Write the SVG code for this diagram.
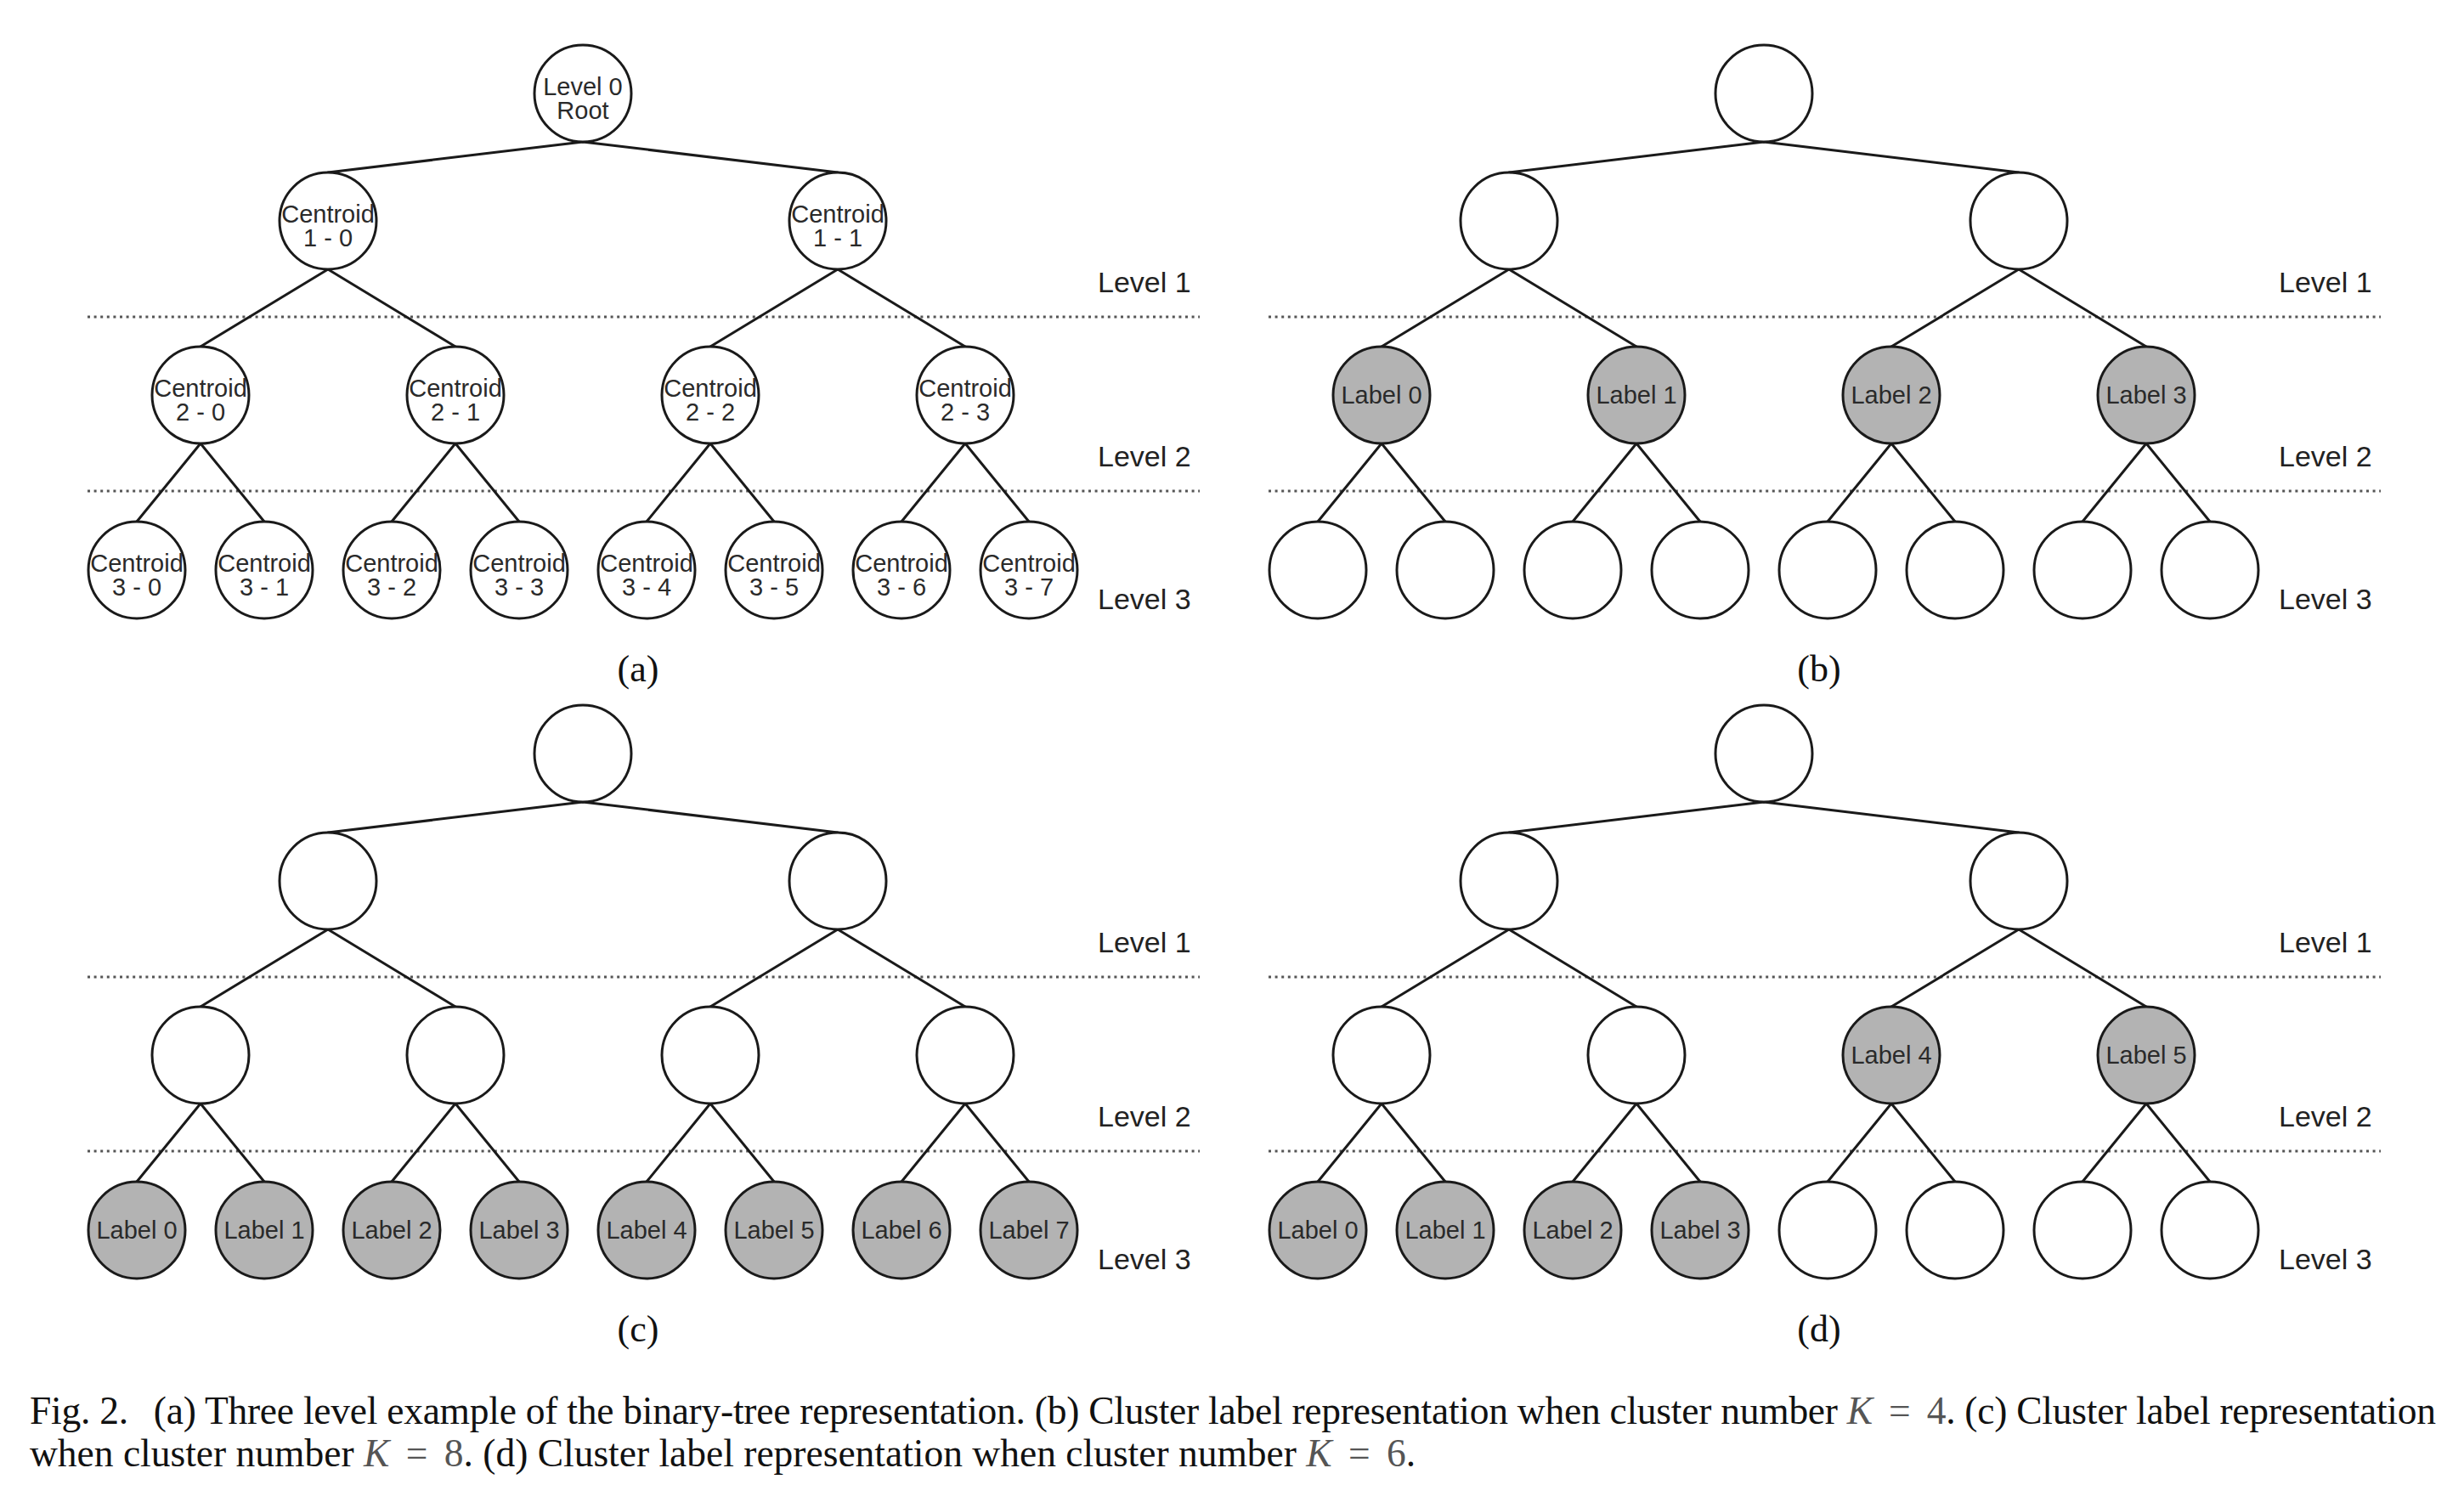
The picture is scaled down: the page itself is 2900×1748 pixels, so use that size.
<svg xmlns="http://www.w3.org/2000/svg" width="2900" height="1748" viewBox="0 0 2900 1748">
<style>
.bg{fill:#fff}
.e{stroke:#1a1a1a;stroke-width:3;fill:none;stroke-linecap:round}
.n{fill:#fff;stroke:#1a1a1a;stroke-width:3}
.g{fill:#b3b3b3;stroke:#1a1a1a;stroke-width:3}
.t{font-family:"Liberation Sans",Arial,sans-serif;font-size:29px;fill:#2a2a2a;text-anchor:middle}
.lv{font-family:"Liberation Sans",Arial,sans-serif;font-size:34px;fill:#222}
.dot{stroke:#555;stroke-width:3;stroke-dasharray:3 4.6;fill:none}
.pl{font-family:"Liberation Serif","Times New Roman",serif;font-size:44px;fill:#111;text-anchor:middle}
.cap{font-family:"Liberation Serif","Times New Roman",serif;font-size:45.5px;fill:#111}
.m{font-style:italic;fill:#555}
.mm{fill:#555}
</style>
<rect class="bg" x="0" y="0" width="2900" height="1748"/>

<!-- dotted level separators and level labels -->
<g id="levels">
  <g id="levels-a">
    <line class="dot" x1="103" y1="373" x2="1412" y2="373"/>
    <line class="dot" x1="103" y1="578" x2="1412" y2="578"/>
    <text class="lv" x="1292" y="344">Level 1</text>
    <text class="lv" x="1292" y="549">Level 2</text>
    <text class="lv" x="1292" y="717">Level 3</text>
  </g>
  <g id="levels-b" transform="translate(1390,0)">
    <line class="dot" x1="103" y1="373" x2="1412" y2="373"/>
    <line class="dot" x1="103" y1="578" x2="1412" y2="578"/>
    <text class="lv" x="1292" y="344">Level 1</text>
    <text class="lv" x="1292" y="549">Level 2</text>
    <text class="lv" x="1292" y="717">Level 3</text>
  </g>
  <g id="levels-c" transform="translate(0,777)">
    <line class="dot" x1="103" y1="373" x2="1412" y2="373"/>
    <line class="dot" x1="103" y1="578" x2="1412" y2="578"/>
    <text class="lv" x="1292" y="344">Level 1</text>
    <text class="lv" x="1292" y="549">Level 2</text>
    <text class="lv" x="1292" y="717">Level 3</text>
  </g>
  <g id="levels-d" transform="translate(1390,777)">
    <line class="dot" x1="103" y1="373" x2="1412" y2="373"/>
    <line class="dot" x1="103" y1="578" x2="1412" y2="578"/>
    <text class="lv" x="1292" y="344">Level 1</text>
    <text class="lv" x="1292" y="549">Level 2</text>
    <text class="lv" x="1292" y="717">Level 3</text>
  </g>
</g>

<!-- connectors -->
<g id="connectors">
  <g id="connectors-a">
    <line class="e" x1="686" y1="167" x2="386" y2="203"/>
    <line class="e" x1="686" y1="167" x2="986" y2="203"/>
    <line class="e" x1="386" y1="317" x2="236" y2="408"/>
    <line class="e" x1="386" y1="317" x2="536" y2="408"/>
    <line class="e" x1="986" y1="317" x2="836" y2="408"/>
    <line class="e" x1="986" y1="317" x2="1136" y2="408"/>
    <line class="e" x1="236" y1="522" x2="161" y2="614"/>
    <line class="e" x1="236" y1="522" x2="311" y2="614"/>
    <line class="e" x1="536" y1="522" x2="461" y2="614"/>
    <line class="e" x1="536" y1="522" x2="611" y2="614"/>
    <line class="e" x1="836" y1="522" x2="761" y2="614"/>
    <line class="e" x1="836" y1="522" x2="911" y2="614"/>
    <line class="e" x1="1136" y1="522" x2="1061" y2="614"/>
    <line class="e" x1="1136" y1="522" x2="1211" y2="614"/>
  </g>
  <g id="connectors-b" transform="translate(1390,0)">
    <line class="e" x1="686" y1="167" x2="386" y2="203"/>
    <line class="e" x1="686" y1="167" x2="986" y2="203"/>
    <line class="e" x1="386" y1="317" x2="236" y2="408"/>
    <line class="e" x1="386" y1="317" x2="536" y2="408"/>
    <line class="e" x1="986" y1="317" x2="836" y2="408"/>
    <line class="e" x1="986" y1="317" x2="1136" y2="408"/>
    <line class="e" x1="236" y1="522" x2="161" y2="614"/>
    <line class="e" x1="236" y1="522" x2="311" y2="614"/>
    <line class="e" x1="536" y1="522" x2="461" y2="614"/>
    <line class="e" x1="536" y1="522" x2="611" y2="614"/>
    <line class="e" x1="836" y1="522" x2="761" y2="614"/>
    <line class="e" x1="836" y1="522" x2="911" y2="614"/>
    <line class="e" x1="1136" y1="522" x2="1061" y2="614"/>
    <line class="e" x1="1136" y1="522" x2="1211" y2="614"/>
  </g>
  <g id="connectors-c" transform="translate(0,777)">
    <line class="e" x1="686" y1="167" x2="386" y2="203"/>
    <line class="e" x1="686" y1="167" x2="986" y2="203"/>
    <line class="e" x1="386" y1="317" x2="236" y2="408"/>
    <line class="e" x1="386" y1="317" x2="536" y2="408"/>
    <line class="e" x1="986" y1="317" x2="836" y2="408"/>
    <line class="e" x1="986" y1="317" x2="1136" y2="408"/>
    <line class="e" x1="236" y1="522" x2="161" y2="614"/>
    <line class="e" x1="236" y1="522" x2="311" y2="614"/>
    <line class="e" x1="536" y1="522" x2="461" y2="614"/>
    <line class="e" x1="536" y1="522" x2="611" y2="614"/>
    <line class="e" x1="836" y1="522" x2="761" y2="614"/>
    <line class="e" x1="836" y1="522" x2="911" y2="614"/>
    <line class="e" x1="1136" y1="522" x2="1061" y2="614"/>
    <line class="e" x1="1136" y1="522" x2="1211" y2="614"/>
  </g>
  <g id="connectors-d" transform="translate(1390,777)">
    <line class="e" x1="686" y1="167" x2="386" y2="203"/>
    <line class="e" x1="686" y1="167" x2="986" y2="203"/>
    <line class="e" x1="386" y1="317" x2="236" y2="408"/>
    <line class="e" x1="386" y1="317" x2="536" y2="408"/>
    <line class="e" x1="986" y1="317" x2="836" y2="408"/>
    <line class="e" x1="986" y1="317" x2="1136" y2="408"/>
    <line class="e" x1="236" y1="522" x2="161" y2="614"/>
    <line class="e" x1="236" y1="522" x2="311" y2="614"/>
    <line class="e" x1="536" y1="522" x2="461" y2="614"/>
    <line class="e" x1="536" y1="522" x2="611" y2="614"/>
    <line class="e" x1="836" y1="522" x2="761" y2="614"/>
    <line class="e" x1="836" y1="522" x2="911" y2="614"/>
    <line class="e" x1="1136" y1="522" x2="1061" y2="614"/>
    <line class="e" x1="1136" y1="522" x2="1211" y2="614"/>
  </g>
</g>

<!-- panel (a) -->
<g id="panel-a">
  <g id="a-root"><circle class="n" cx="686" cy="110" r="57"/><text class="t" x="686" y="112">Level 0</text><text class="t" x="686" y="140">Root</text></g>
  <g id="a-c1-0"><circle class="n" cx="386" cy="260" r="57"/><text class="t" x="386" y="262">Centroid</text><text class="t" x="386" y="290">1 - 0</text></g>
  <g id="a-c1-1"><circle class="n" cx="986" cy="260" r="57"/><text class="t" x="986" y="262">Centroid</text><text class="t" x="986" y="290">1 - 1</text></g>
  <g id="a-c2-0"><circle class="n" cx="236" cy="465" r="57"/><text class="t" x="236" y="467">Centroid</text><text class="t" x="236" y="495">2 - 0</text></g>
  <g id="a-c2-1"><circle class="n" cx="536" cy="465" r="57"/><text class="t" x="536" y="467">Centroid</text><text class="t" x="536" y="495">2 - 1</text></g>
  <g id="a-c2-2"><circle class="n" cx="836" cy="465" r="57"/><text class="t" x="836" y="467">Centroid</text><text class="t" x="836" y="495">2 - 2</text></g>
  <g id="a-c2-3"><circle class="n" cx="1136" cy="465" r="57"/><text class="t" x="1136" y="467">Centroid</text><text class="t" x="1136" y="495">2 - 3</text></g>
  <g id="a-c3-0"><circle class="n" cx="161" cy="671" r="57"/><text class="t" x="161" y="673">Centroid</text><text class="t" x="161" y="701">3 - 0</text></g>
  <g id="a-c3-1"><circle class="n" cx="311" cy="671" r="57"/><text class="t" x="311" y="673">Centroid</text><text class="t" x="311" y="701">3 - 1</text></g>
  <g id="a-c3-2"><circle class="n" cx="461" cy="671" r="57"/><text class="t" x="461" y="673">Centroid</text><text class="t" x="461" y="701">3 - 2</text></g>
  <g id="a-c3-3"><circle class="n" cx="611" cy="671" r="57"/><text class="t" x="611" y="673">Centroid</text><text class="t" x="611" y="701">3 - 3</text></g>
  <g id="a-c3-4"><circle class="n" cx="761" cy="671" r="57"/><text class="t" x="761" y="673">Centroid</text><text class="t" x="761" y="701">3 - 4</text></g>
  <g id="a-c3-5"><circle class="n" cx="911" cy="671" r="57"/><text class="t" x="911" y="673">Centroid</text><text class="t" x="911" y="701">3 - 5</text></g>
  <g id="a-c3-6"><circle class="n" cx="1061" cy="671" r="57"/><text class="t" x="1061" y="673">Centroid</text><text class="t" x="1061" y="701">3 - 6</text></g>
  <g id="a-c3-7"><circle class="n" cx="1211" cy="671" r="57"/><text class="t" x="1211" y="673">Centroid</text><text class="t" x="1211" y="701">3 - 7</text></g>
  <text class="pl" x="751" y="802">(a)</text>
</g>

<!-- panel (b) -->
<g id="panel-b" transform="translate(1390,0)">
  <g id="b-root"><circle class="n" cx="686" cy="110" r="57"/></g>
  <g id="b-n1-0"><circle class="n" cx="386" cy="260" r="57"/></g>
  <g id="b-n1-1"><circle class="n" cx="986" cy="260" r="57"/></g>
  <g id="b-label0"><circle class="g" cx="236" cy="465" r="57"/><text class="t" x="236" y="475">Label 0</text></g>
  <g id="b-label1"><circle class="g" cx="536" cy="465" r="57"/><text class="t" x="536" y="475">Label 1</text></g>
  <g id="b-label2"><circle class="g" cx="836" cy="465" r="57"/><text class="t" x="836" y="475">Label 2</text></g>
  <g id="b-label3"><circle class="g" cx="1136" cy="465" r="57"/><text class="t" x="1136" y="475">Label 3</text></g>
  <g id="b-n3-0"><circle class="n" cx="161" cy="671" r="57"/></g>
  <g id="b-n3-1"><circle class="n" cx="311" cy="671" r="57"/></g>
  <g id="b-n3-2"><circle class="n" cx="461" cy="671" r="57"/></g>
  <g id="b-n3-3"><circle class="n" cx="611" cy="671" r="57"/></g>
  <g id="b-n3-4"><circle class="n" cx="761" cy="671" r="57"/></g>
  <g id="b-n3-5"><circle class="n" cx="911" cy="671" r="57"/></g>
  <g id="b-n3-6"><circle class="n" cx="1061" cy="671" r="57"/></g>
  <g id="b-n3-7"><circle class="n" cx="1211" cy="671" r="57"/></g>
  <text class="pl" x="751" y="802">(b)</text>
</g>

<!-- panel (c) -->
<g id="panel-c" transform="translate(0,777)">
  <g id="c-root"><circle class="n" cx="686" cy="110" r="57"/></g>
  <g id="c-n1-0"><circle class="n" cx="386" cy="260" r="57"/></g>
  <g id="c-n1-1"><circle class="n" cx="986" cy="260" r="57"/></g>
  <g id="c-n2-0"><circle class="n" cx="236" cy="465" r="57"/></g>
  <g id="c-n2-1"><circle class="n" cx="536" cy="465" r="57"/></g>
  <g id="c-n2-2"><circle class="n" cx="836" cy="465" r="57"/></g>
  <g id="c-n2-3"><circle class="n" cx="1136" cy="465" r="57"/></g>
  <g id="c-label0"><circle class="g" cx="161" cy="671" r="57"/><text class="t" x="161" y="681">Label 0</text></g>
  <g id="c-label1"><circle class="g" cx="311" cy="671" r="57"/><text class="t" x="311" y="681">Label 1</text></g>
  <g id="c-label2"><circle class="g" cx="461" cy="671" r="57"/><text class="t" x="461" y="681">Label 2</text></g>
  <g id="c-label3"><circle class="g" cx="611" cy="671" r="57"/><text class="t" x="611" y="681">Label 3</text></g>
  <g id="c-label4"><circle class="g" cx="761" cy="671" r="57"/><text class="t" x="761" y="681">Label 4</text></g>
  <g id="c-label5"><circle class="g" cx="911" cy="671" r="57"/><text class="t" x="911" y="681">Label 5</text></g>
  <g id="c-label6"><circle class="g" cx="1061" cy="671" r="57"/><text class="t" x="1061" y="681">Label 6</text></g>
  <g id="c-label7"><circle class="g" cx="1211" cy="671" r="57"/><text class="t" x="1211" y="681">Label 7</text></g>
  <text class="pl" x="751" y="802">(c)</text>
</g>

<!-- panel (d) -->
<g id="panel-d" transform="translate(1390,777)">
  <g id="d-root"><circle class="n" cx="686" cy="110" r="57"/></g>
  <g id="d-n1-0"><circle class="n" cx="386" cy="260" r="57"/></g>
  <g id="d-n1-1"><circle class="n" cx="986" cy="260" r="57"/></g>
  <g id="d-n2-0"><circle class="n" cx="236" cy="465" r="57"/></g>
  <g id="d-n2-1"><circle class="n" cx="536" cy="465" r="57"/></g>
  <g id="d-label4"><circle class="g" cx="836" cy="465" r="57"/><text class="t" x="836" y="475">Label 4</text></g>
  <g id="d-label5"><circle class="g" cx="1136" cy="465" r="57"/><text class="t" x="1136" y="475">Label 5</text></g>
  <g id="d-label0"><circle class="g" cx="161" cy="671" r="57"/><text class="t" x="161" y="681">Label 0</text></g>
  <g id="d-label1"><circle class="g" cx="311" cy="671" r="57"/><text class="t" x="311" y="681">Label 1</text></g>
  <g id="d-label2"><circle class="g" cx="461" cy="671" r="57"/><text class="t" x="461" y="681">Label 2</text></g>
  <g id="d-label3"><circle class="g" cx="611" cy="671" r="57"/><text class="t" x="611" y="681">Label 3</text></g>
  <g id="d-n3-4"><circle class="n" cx="761" cy="671" r="57"/></g>
  <g id="d-n3-5"><circle class="n" cx="911" cy="671" r="57"/></g>
  <g id="d-n3-6"><circle class="n" cx="1061" cy="671" r="57"/></g>
  <g id="d-n3-7"><circle class="n" cx="1211" cy="671" r="57"/></g>
  <text class="pl" x="751" y="802">(d)</text>
</g>

<!-- caption -->
<g id="caption">
  <text class="cap" x="35" y="1676" textLength="2832" lengthAdjust="spacing">Fig. 2.<tspan dx="30">(a) Three level example of the binary-tree representation. (b) Cluster label representation when cluster number </tspan><tspan class="m">K</tspan><tspan class="mm" dx="8"> = </tspan><tspan class="mm" dx="8">4</tspan>. (c) Cluster label representation</text>
  <text class="cap" x="35" y="1726">when cluster number <tspan class="m">K</tspan><tspan class="mm" dx="8"> = </tspan><tspan class="mm" dx="8">8</tspan>. (d) Cluster label representation when cluster number <tspan class="m">K</tspan><tspan class="mm" dx="8"> = </tspan><tspan class="mm" dx="8">6</tspan>.</text>
</g>
</svg>
